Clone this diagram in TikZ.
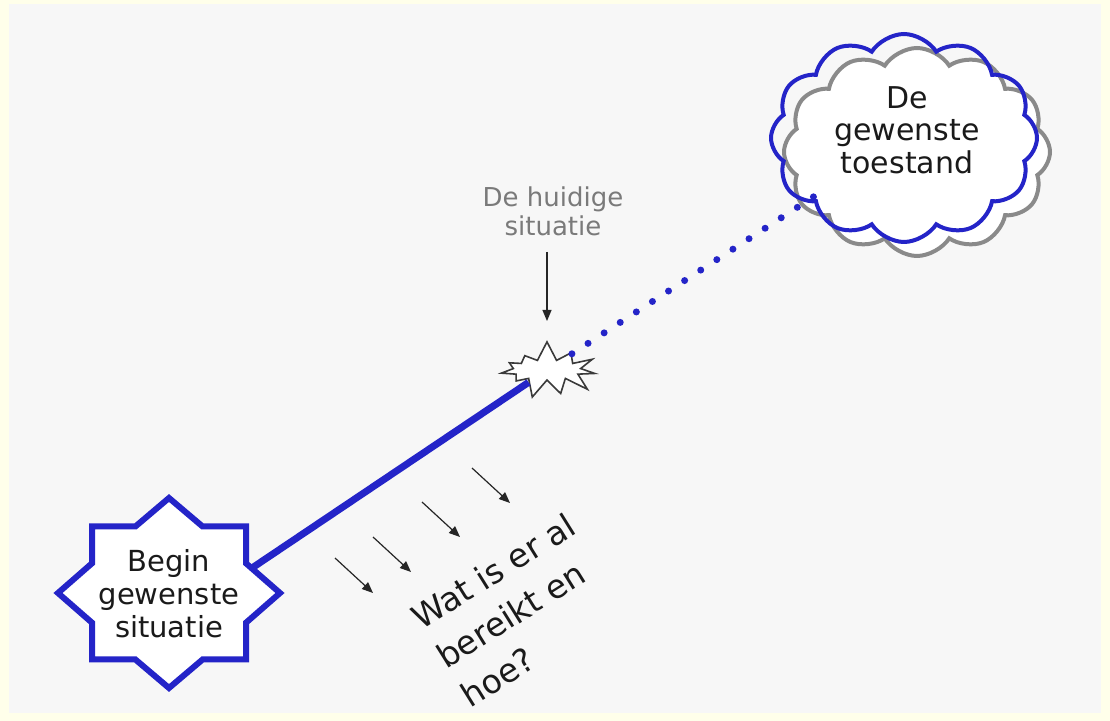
\documentclass[tikz,border=0pt]{standalone}
\usepackage{fontspec}
\setmainfont{DejaVu Sans}
\usetikzlibrary{shapes.symbols,arrows.meta}
\definecolor{bgyellow}{HTML}{FFFFEA}
\definecolor{bggrey}{HTML}{F7F7F7}
\definecolor{myblue}{RGB}{36,36,200}
\definecolor{cloudgrey}{HTML}{8A8A8A}
\definecolor{burstgrey}{HTML}{3A3A3A}
\definecolor{txt}{HTML}{1A1A1A}
\definecolor{softtxt}{HTML}{7A7A7A}
\tikzset{
  starline/.style={draw=myblue, line width=3pt, fill=white, line join=miter},
  mainline/.style={myblue, line width=3.5pt},
  dotline/.style={myblue, line width=3.5pt, line cap=round, dash pattern=on 0pt off 9.6pt},
  burstshape/.style={starburst, draw=burstgrey, fill=white, line width=0.8pt, starburst points=11,
    starburst point height=10pt, random starburst=7, minimum width=54pt, minimum height=30pt, inner sep=0pt},
  cloudshape/.style={cloud, cloud puffs=12, cloud puff arc=115, minimum width=133pt, minimum height=104pt,
    line width=2pt, inner sep=0pt},
  pointer/.style={-{Triangle[length=5.5pt,width=4.5pt]}, line width=0.6pt, black!85},
  startext/.style={align=center, text=txt, font=\fontsize{14.5}{16.5}\selectfont, inner sep=0pt},
  cloudtext/.style={align=center, text=txt, font=\fontsize{15}{16.3}\selectfont, inner sep=0pt},
  notetext/.style={align=center, text=softtxt, font=\fontsize{13}{14.5}\selectfont, inner sep=0pt},
  asktext/.style={align=left, text=txt, font=\fontsize{16.5}{23}\selectfont, inner sep=0pt},
}
\begin{document}
\begin{tikzpicture}[x=0.5pt, y=-0.5pt]
\useasboundingbox (0,0) rectangle (1110,721);
\fill[bgyellow] (0,0) rectangle (1110,721);
\fill[bggrey] (9,4) rectangle (1101,713);

% star
\begin{scope}[shift={(169,593)}]
\draw[starline] (0,-95) -- (33.6,-66.5) -- (77,-66.5) -- (77,-29.7) -- (111,0) -- (77,29.7)
  -- (77,66.5) -- (33.6,66.5) -- (0,95) -- (-33.6,66.5) -- (-77,66.5) -- (-77,29.7)
  -- (-111,0) -- (-77,-29.7) -- (-77,-66.5) -- (-33.6,-66.5) -- cycle;
\end{scope}
\node[startext] (begin) at (169,594) {Begin\\gewenste\\situatie};

% clouds
\node[cloudshape, draw=cloudgrey, fill=white] (cloudG) at (917,152) {};
\node[cloudshape, draw=myblue] (cloudB) at (904,138) {};
\node[cloudtext] (goal) at (907,130) {De\\gewenste\\toestand};

% burst
\node[burstshape] (burst) at (547,370) {};

% connectors
\coordinate (lineStart) at (252,568);
\draw[mainline] (lineStart) -- (burst);
\draw[dotline, shorten >=-8pt] (burst) -- (cloudB);

% current situation label
\node[notetext] (now) at (553,211) {De huidige\\situatie};
\coordinate (hereFrom) at (547,252);
\coordinate (hereTip) at (547,321);
\draw[pointer] (hereFrom) -- (hereTip);

% diagonal arrows
\foreach \i/\x/\y in {1/335/558, 2/373/537, 3/422/502, 4/472/468}{
  \coordinate (w\i) at (\x,\y);
  \coordinate (v\i) at (\x+38,\y+35);
  \draw[pointer] (w\i) -- (v\i);
}

\node[asktext, rotate=32, anchor=north west] (ask) at (408,609) {Wat is er al\\bereikt en\\hoe?};
\end{tikzpicture}
\end{document}
